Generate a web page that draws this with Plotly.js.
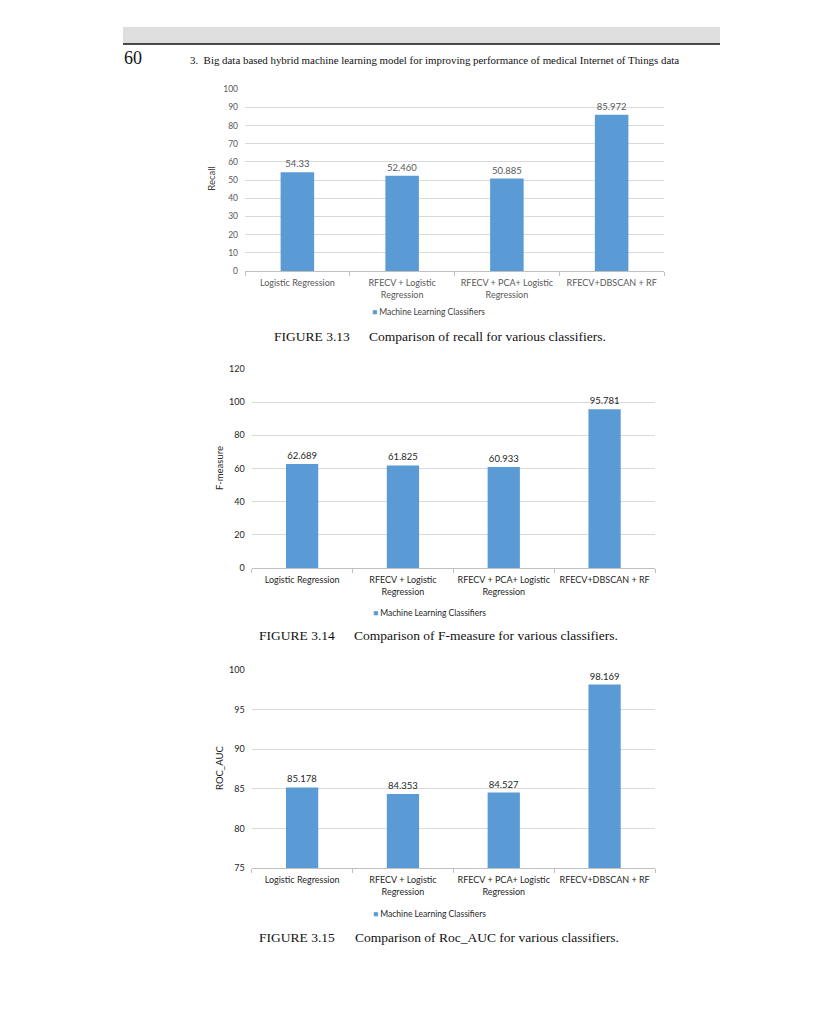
<!DOCTYPE html>
<html>
<head>
<meta charset="utf-8">
<script src="https://cdn.plot.ly/plotly-3.0.1.min.js"></script>
<style>html,body{margin:0;padding:0;background:#fff;}#chart{width:830px;height:1024px;}</style>
</head>
<body>
<div id="chart"></div>
<script>
// ---- data ----
const categories = ["Logistic Regression", "RFECV + Logistic<br>Regression", "RFECV + PCA+ Logistic<br>Regression", "RFECV+DBSCAN + RF"];
const recall = [54.33, 52.46, 50.885, 85.972];
const recallLabels = ["54.33", "52.460", "50.885", "85.972"];
const fmeasure = [62.689, 61.825, 60.933, 95.781];
const fmeasureLabels = ["62.689", "61.825", "60.933", "95.781"];
const rocAuc = [85.178, 84.353, 84.527, 98.169];
const rocAucLabels = ["85.178", "84.353", "84.527", "98.169"];
const seriesName = "Machine Learning Classifiers";
const headerPage = "60";
const headerText = "3.  Big data based hybrid machine learning model for improving performance of medical Internet of Things data";
const captions = [
  ["FIGURE 3.13", "Comparison of recall for various classifiers."],
  ["FIGURE 3.14", "Comparison of F-measure for various classifiers."],
  ["FIGURE 3.15", "Comparison of Roc_AUC for various classifiers."]
];
const yTitles = ["Recall", "F-measure", "ROC_AUC"];

// ---- helpers ----
const W = 830, H = 1024;
const px = x => x / W;
const py = y => 1 - y / H;
const BLUE = "#5b9bd5";
const FONT = "Lato, 'Open Sans', sans-serif";
const SERIF = "'Liberation Serif', 'DejaVu Serif', serif";

function barTrace(vals, labels, xa, ya, col) {
  return {
    type: "bar", x: categories, y: vals, text: labels, textposition: "outside",
    texttemplate: "%{text}", cliponaxis: false,
    textfont: {family: FONT, size: 9.5, color: col},
    marker: {color: BLUE}, name: seriesName, showlegend: false,
    xaxis: xa, yaxis: ya, hoverinfo: "x+y"
  };
}

const traces = [
  barTrace(recall, recallLabels, "x", "y", "#595959"),
  barTrace(fmeasure, fmeasureLabels, "x2", "y2", "#262626"),
  barTrace(rocAuc, rocAucLabels, "x3", "y3", "#262626")
];

function xAxis(d, col) {
  return {domain: d, type: "category", showgrid: false, showline: true, linecolor: "#bfbfbf", linewidth: 1,
    ticks: "outside", tickson: "boundaries", ticklen: 4, tickcolor: "#bfbfbf", tickangle: 0, automargin: false,
    ticklabelstandoff: 3,
    tickfont: {family: FONT, size: 9, color: col}, fixedrange: true, zeroline: false};
}
function yAxis(d, r, dt, col, fs, anchor) {
  return {domain: d, range: r, dtick: dt, tick0: r[0], showgrid: true, gridcolor: "#d9d9d9", gridwidth: 1,
    zeroline: false, showline: false, ticks: "", ticklabelstandoff: 6, automargin: false,
    tickfont: {family: FONT, size: fs, color: col}, anchor: anchor, fixedrange: true};
}

const xd23 = [px(251.7), px(655)];
const layout = {
  width: W, height: H, margin: {l: 0, r: 0, t: 0, b: 0},
  paper_bgcolor: "#fff", plot_bgcolor: "rgba(0,0,0,0)",
  bargap: 0.68, showlegend: false,
  xaxis: Object.assign(xAxis([px(245), px(664)], "#595959"), {anchor: "y"}),
  yaxis: yAxis([py(271), py(89.3)], [0, 100], 10, "#595959", 8.5, "x"),
  xaxis2: Object.assign(xAxis(xd23, "#262626"), {anchor: "y2"}),
  yaxis2: yAxis([py(568), py(369)], [0, 120], 20, "#262626", 9, "x2"),
  xaxis3: Object.assign(xAxis(xd23, "#262626"), {anchor: "y3"}),
  yaxis3: yAxis([py(868), py(670)], [75, 100], 5, "#262626", 9, "x3"),
  shapes: [
    {type: "rect", xref: "paper", yref: "paper", x0: px(123), x1: px(720), y0: py(44), y1: py(27),
     fillcolor: "#dedede", line: {width: 0}, layer: "below"},
    {type: "line", xref: "paper", yref: "paper", x0: px(123), x1: px(720), y0: py(44), y1: py(44),
     line: {color: "#111", width: 1.5}}
  ],
  annotations: []
};
const A = layout.annotations;
A.push({xref: "paper", yref: "paper", x: px(122), y: py(58), xanchor: "left", yanchor: "middle", showarrow: false,
  text: headerPage, font: {family: SERIF, size: 18, color: "#111"}});
A.push({xref: "paper", yref: "paper", x: px(188), y: py(60), xanchor: "left", yanchor: "middle", showarrow: false,
  text: headerText, font: {family: SERIF, size: 10.9, color: "#111"}});

// y titles
const yT = [[210.7, 179, "#404040"], [219, 468, "#262626"], [219, 768, "#262626"]];
yT.forEach((p, i) => A.push({xref: "paper", yref: "paper", x: px(p[0]), y: py(p[1]), xanchor: "center", yanchor: "middle",
  showarrow: false, textangle: -90, text: yTitles[i], font: {family: FONT, size: 9.5, color: p[2]}}));

// legends (as annotations)
const legY = [312, 613, 914];
const legX = [373, 374, 374];
legY.forEach((y, i) => A.push({xref: "paper", yref: "paper", x: px(legX[i] - 3), y: py(y), xanchor: "left", yanchor: "middle",
  showarrow: false, text: "<span style='color:" + BLUE + "'>■</span> " + seriesName,
  font: {family: FONT, size: 8.5, color: i === 0 ? "#404040" : "#262626"}}));

// captions
const capY = [336, 635, 937];
const capX = [[272, 367], [257, 352], [257, 353]];
capY.forEach((y, i) => {
  A.push({xref: "paper", yref: "paper", x: px(capX[i][0]), y: py(y), xanchor: "left", yanchor: "middle", showarrow: false,
    text: captions[i][0], font: {family: SERIF, size: 13.5, color: "#111"}});
  A.push({xref: "paper", yref: "paper", x: px(capX[i][1]), y: py(y), xanchor: "left", yanchor: "middle", showarrow: false,
    text: captions[i][1], font: {family: SERIF, size: 13.5, color: "#111"}});
});

Plotly.newPlot("chart", traces, layout, {displayModeBar: false, staticPlot: true});
</script>
</body>
</html>
